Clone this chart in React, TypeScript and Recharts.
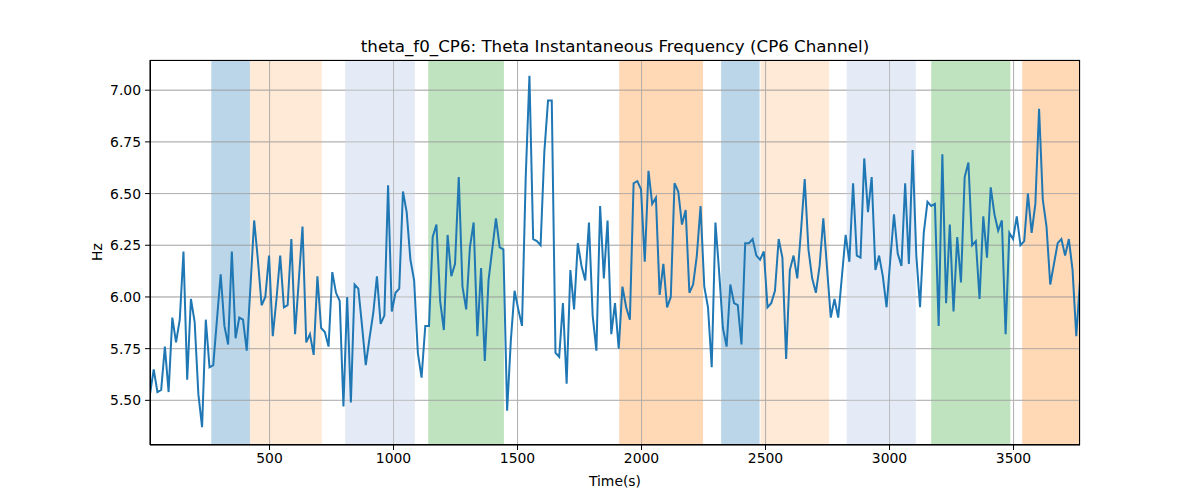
import { CartesianGrid, Line, LineChart, ReferenceArea, ReferenceLine, XAxis, YAxis } from 'recharts';

// sampling grid of the frequency estimate
const T0 = 18;
const STEP = 15;

const hz = [
  5.53, 5.65, 5.54, 5.55, 5.76, 5.54, 5.9, 5.78, 5.89, 6.22,
  5.6, 5.99, 5.88, 5.53, 5.37, 5.89, 5.66, 5.67, 5.89, 6.11,
  5.86, 5.77, 6.22, 5.8, 5.9, 5.89, 5.74, 6.05, 6.37, 6.18,
  5.96, 6.0, 6.2, 5.81, 5.99, 6.2, 5.95, 5.96, 6.28, 5.82,
  6.08, 6.34, 5.78, 5.82, 5.72, 6.1, 5.85, 5.83, 5.76, 6.12,
  6.02, 5.98, 5.47, 6.0, 5.49, 6.06, 6.04, 5.86, 5.67, 5.8,
  5.92, 6.1, 5.87, 5.91, 6.54, 5.93, 6.02, 6.04, 6.51, 6.41,
  6.18, 6.08, 5.73, 5.61, 5.86, 5.86, 6.29, 6.35, 5.98, 5.84,
  6.3, 6.1, 6.16, 6.58, 6.05, 5.94, 6.24, 6.36, 5.81, 6.14,
  5.69, 6.08, 6.23, 6.38, 6.24, 6.23, 5.45, 5.79, 6.03, 5.94,
  5.86, 6.58, 7.07, 6.28, 6.27, 6.25, 6.7, 6.95, 6.95, 5.73,
  5.71, 5.97, 5.58, 6.13, 5.94, 6.26, 6.15, 6.08, 6.36, 5.91,
  5.74, 6.44, 6.09, 6.37, 5.82, 5.97, 5.75, 6.05, 5.95, 5.89,
  6.55, 6.56, 6.52, 6.17, 6.61, 6.45, 6.48, 6.01, 6.16, 5.95,
  6.0, 6.55, 6.51, 6.35, 6.42, 6.02, 6.06, 6.2, 6.44, 6.05,
  5.95, 5.66, 6.36, 6.12, 5.85, 5.76, 6.06, 5.97, 5.96, 5.77,
  6.26, 6.26, 6.28, 6.2, 6.18, 6.22, 5.95, 5.97, 6.03, 6.28,
  6.19, 5.7, 6.13, 6.2, 6.09, 6.32, 6.57, 6.23, 6.09, 6.02,
  6.15, 6.38, 6.14, 5.9, 5.99, 5.9, 6.1, 6.3, 6.17, 6.55,
  6.2, 6.19, 6.67, 6.41, 6.58, 6.13, 6.2, 6.1, 5.95, 6.18,
  6.4, 6.21, 6.15, 6.55, 6.16, 6.71, 6.2, 5.95, 6.31, 6.46,
  6.44, 6.45, 5.86, 6.69, 5.97, 6.35, 5.93, 6.29, 6.07, 6.58,
  6.65, 6.25, 6.27, 5.99, 6.39, 6.19, 6.53, 6.4, 6.32, 6.37,
  5.82, 6.31, 6.28, 6.39, 6.25, 6.27, 6.5, 6.31, 6.45, 6.91,
  6.47, 6.34, 6.06, 6.16, 6.26, 6.28, 6.2, 6.28, 6.13, 5.81,
  6.08,
];

const xTicks = [500, 1000, 1500, 2000, 2500, 3000, 3500];
const yTicks = [5.5, 5.75, 6.0, 6.25, 6.5, 6.75, 7.0];

// shaded epochs
const bandStart = [265, 421, 805, 1140, 1910, 2321, 2480, 2827, 3168, 3535];
const bandEnd = [421, 711, 1086, 1445, 2248, 2476, 2756, 3106, 3487, 3768];
const bandKind = ['blue', 'peach', 'sky', 'green', 'orange', 'blue', 'peach', 'sky', 'green', 'orange'];

const bandStyle: Record<string, { fill: string; opacity: number }> = {
  blue: { fill: '#1f77b4', opacity: 0.3 },
  peach: { fill: '#ff7f0e', opacity: 0.16 },
  sky: { fill: '#e4ebf6', opacity: 1 },
  green: { fill: '#2ca02c', opacity: 0.3 },
  orange: { fill: '#ff7f0e', opacity: 0.3 },
};

const data = hz.map((v, i) => ({ t: T0 + STEP * i, hz: v }));

const font = '"DejaVu Sans", sans-serif';
const gridColor = '#b0b0b0';

export default function App() {
  return (
    <div style={{ position: 'absolute', left: 0, top: 0, width: 1200, height: 500, background: '#fff', fontFamily: font }}>
      <div style={{ position: 'absolute', left: 115, top: 36, width: 1000, textAlign: 'center', fontSize: 16.7, lineHeight: '20px', color: '#000' }}>
        theta_f0_CP6: Theta Instantaneous Frequency (CP6 Channel)
      </div>
      <LineChart width={1200} height={500} data={data} margin={{ top: 60, right: 120, bottom: 25, left: 90 }}>
        <CartesianGrid stroke={gridColor} strokeWidth={0.8} />
        {bandStart.map((x1, i) => (
          <ReferenceArea
            key={i}
            x1={x1}
            x2={bandEnd[i]}
            fill={bandStyle[bandKind[i]].fill}
            fillOpacity={bandStyle[bandKind[i]].opacity}
            stroke="none"
            ifOverflow="hidden"
          />
        ))}
        {xTicks.map((x) => (
          <ReferenceLine key={'gx' + x} x={x} stroke={gridColor} strokeWidth={0.8} />
        ))}
        {yTicks.map((y) => (
          <ReferenceLine key={'gy' + y} y={y} stroke={gridColor} strokeWidth={0.8} />
        ))}
        <XAxis
          dataKey="t"
          type="number"
          domain={[18, 3768]}
          ticks={xTicks}
          allowDataOverflow
          height={30}
          tickSize={5}
          tickMargin={3}
          stroke="#000"
          tick={{ fill: '#000', fontSize: 13.9, fontFamily: font }}
        />
        <YAxis
          type="number"
          domain={[5.284, 7.146]}
          ticks={yTicks}
          allowDataOverflow
          width={60}
          tickSize={5}
          tickMargin={4}
          stroke="#000"
          tickFormatter={(v: number) => v.toFixed(2)}
          tick={{ fill: '#000', fontSize: 13.9, fontFamily: font }}
        />
        <Line type="linear" dataKey="hz" stroke="#1f77b4" strokeWidth={2} dot={false} isAnimationActive={false} />
      </LineChart>
      <div style={{ position: 'absolute', left: 150, top: 60, width: 930, height: 385, border: '1px solid #000', boxSizing: 'border-box', pointerEvents: 'none', marginLeft: -0.5, marginTop: -0.5 }} />
      <div style={{ position: 'absolute', left: 65, top: 243, width: 64, textAlign: 'center', fontSize: 13.9, lineHeight: '18px', transform: 'rotate(-90deg)', color: '#000' }}>
        Hz
      </div>
      <div style={{ position: 'absolute', left: 515, top: 472, width: 200, textAlign: 'center', fontSize: 13.9, lineHeight: '18px', color: '#000' }}>
        Time(s)
      </div>
    </div>
  );
}
